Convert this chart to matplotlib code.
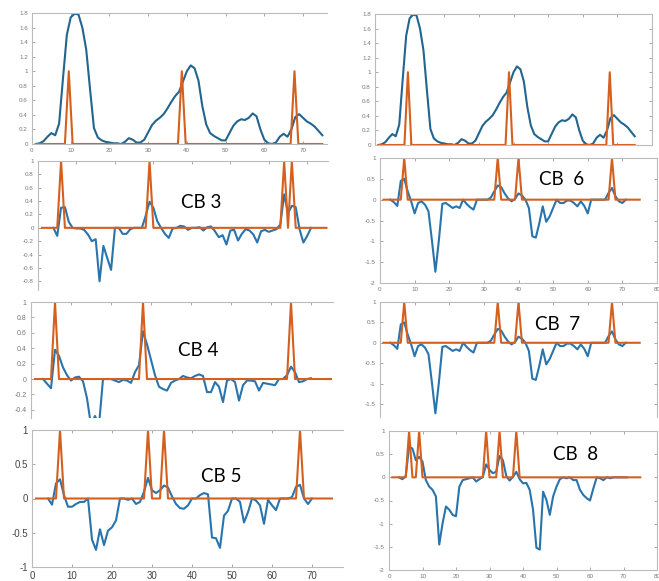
import matplotlib
matplotlib.use('Agg')
import matplotlib.pyplot as plt
from matplotlib.ticker import FuncFormatter

plt.rcParams['axes.unicode_minus'] = False
plt.rcParams['font.family'] = ['Liberation Sans', 'DejaVu Sans']

W, H = 659, 581

# ---- data ----
# top row (same signal in both columns)
top_x = list(range(1, 76))
top_blue = [0.0, 0.01, 0.04, 0.1, 0.15, 0.12, 0.28, 0.9, 1.5, 1.74,
            1.79, 1.78, 1.6, 1.3, 0.75, 0.22, 0.09, 0.05, 0.03, 0.02,
            0.01, 0.01, 0.0, 0.03, 0.08, 0.06, 0.02, 0.02, 0.06, 0.16,
            0.26, 0.32, 0.36, 0.41, 0.49, 0.58, 0.66, 0.72, 0.86, 1.0,
            1.08, 1.04, 0.87, 0.52, 0.27, 0.15, 0.11, 0.08, 0.05, 0.05,
            0.15, 0.25, 0.31, 0.34, 0.33, 0.36, 0.42, 0.38, 0.2, 0.06,
            0.01, 0.0, 0.02, 0.1, 0.14, 0.1, 0.2, 0.37, 0.41, 0.36,
            0.31, 0.28, 0.24, 0.18, 0.12]
top_spikes = [9.5, 38.7, 67.8]

# CB 3
cb3_x = list(range(4, 72))
cb3_blue = [0, -0.12, 0.3, 0.31, 0.09, 0, -0.01, -0.01, -0.03, -0.1,
            -0.2, -0.17, -0.8, -0.27, -0.45, -0.63, 0, 0, -0.09, -0.09,
            -0.02, 0, 0, 0, 0.18, 0.39, 0.3, 0.1, 0, -0.09,
            -0.15, -0.01, 0, 0.03, 0.02, -0.03, 0, 0, 0.01, -0.04,
            0.01, 0.02, -0.05, -0.14, -0.11, -0.25, -0.04, -0.03, -0.19, -0.09,
            -0.02, -0.04, -0.1, -0.22, -0.05, -0.03, -0.06, -0.04, -0.02, 0.05,
            0.5, 0.22, 0.33, 0.31, -0.02, -0.22, -0.12, 0]
cb3_spikes = [6, 29, 64, 66]

# CB 4
cb4_x = list(range(3, 71))
cb4_blue = [0, -0.06, -0.12, 0.38, 0.3, 0.15, 0.05, -0.02, 0.02, 0.03,
            -0.03, -0.25, -0.6, -0.48, -0.6, 0, 0, 0, -0.02, -0.04,
            -0.01, -0.02, -0.05, 0.09, 0.18, 0.62, 0.45, 0.25, 0.05, -0.1,
            -0.13, -0.15, -0.05, -0.02, 0, 0.04, 0.02, 0.01, 0.04, 0.06,
            0.04, -0.17, -0.17, -0.04, -0.1, -0.3, -0.02, 0, -0.04, -0.28,
            -0.08, -0.02, -0.02, -0.03, -0.15, -0.05, -0.06, -0.07, -0.08, 0,
            0, 0.05, 0.16, 0.09, -0.04, -0.03, 0, 0.01]
cb4_spikes = [6, 28, 65]

# CB 5
cb5_x = list(range(4, 71))
cb5_blue = [0, -0.09, 0.22, 0.28, 0.05, -0.12, -0.12, -0.08, -0.05, -0.05,
            0, -0.6, -0.75, -0.45, -0.68, -0.47, -0.42, -0.32, 0, 0,
            -0.02, 0, -0.08, -0.05, 0.1, 0.3, 0.12, 0.08, 0.12, 0.19,
            0.16, 0.03, -0.08, -0.14, -0.15, -0.1, 0, 0, 0.05, 0.08,
            0.06, -0.57, -0.58, -0.72, -0.25, -0.18, 0, 0, -0.05, -0.35,
            -0.2, 0, -0.03, -0.1, -0.37, -0.02, -0.1, -0.17, 0, 0,
            0, 0.02, 0.17, 0.2, 0.0, -0.08, 0]
cb5_spikes = [7, 29, 33, 67]

# CB 6 and CB 7 (same signal)
cb6_x = list(range(3, 72))
cb6_blue = [0, -0.06, -0.15, 0.45, 0.5, 0.2, -0.04, -0.33, -0.08, -0.04,
            -0.12, -0.28, -0.98, -1.73, -0.98, -0.1, -0.08, -0.14, -0.2, -0.16,
            -0.2, 0, -0.1, -0.18, -0.24, 0, 0, 0, 0, 0.05,
            0.2, 0.34, 0.3, 0.15, 0.03, -0.04, 0.02, 0.15, 0.1, 0,
            -0.2, -0.88, -0.91, -0.57, -0.16, -0.53, -0.4, -0.2, 0, -0.08,
            -0.08, -0.02, -0.02, -0.08, -0.16, -0.04, -0.15, -0.33, 0, 0,
            0, 0, 0, 0.16, 0.28, 0.08, -0.04, -0.08, 0]
cb6_spikes = [7, 34, 40, 67]

# CB 8
cb8_x = list(range(3, 72))
cb8_blue = [0, -0.04, 0.03, 0.66, 0.62, 0.37, 0.44, 0.34, -0.06, -0.2,
            -0.27, -0.41, -1.45, -0.99, -0.63, -0.7, -0.81, -0.84, -0.2, -0.06,
            -0.04, -0.02, 0, -0.09, -0.04, 0.01, 0.28, 0.16, 0.09, 0.12,
            0.46, 0.37, 0.03, -0.07, 0.01, 0.12, -0.04, -0.13, -0.12, -0.27,
            -0.7, -1.52, -1.56, -0.31, -0.49, -0.81, -0.41, -0.2, -0.04, 0,
            -0.02, 0, -0.06, -0.06, -0.27, -0.38, -0.45, -0.5, -0.24, 0,
            -0.02, -0.06, 0, -0.02, 0, 0, 0, 0, 0]
cb8_spikes = [6, 9, 29, 33, 38]

ORANGE = '#d4601f'
BLUE_TOP = '#22658f'
BLUE = '#2a74ad'


def spikeLine(centers, start=1, end=75):
    xs = [start]
    ys = [0]
    for c in centers:
        xs += [c - 1, c, c + 1]
        ys += [0, 1, 0]
    xs.append(end)
    ys.append(0)
    return xs, ys


def fmt(v, pos):
    return '%g' % round(v, 2)


def addPanel(fig, box, xlim, ylim, xticks, yticks, x, blue, spikes,
             blueColor=BLUE, right=False, bottom=True, xlabels=True,
             size=4.5, labelColor='#777777'):
    l, t, r, b = box
    ax = fig.add_axes([l / W, 1 - b / H, (r - l) / W, (b - t) / H])
    ax.plot(x, blue, color=blueColor, lw=1.5)
    ox, oy = spikeLine(spikes)
    ax.plot(ox, oy, color=ORANGE, lw=1.5)
    ax.set_xlim(xlim)
    ax.set_ylim(ylim)
    ax.set_xticks(xticks)
    ax.set_yticks(yticks)
    ax.xaxis.set_major_formatter(FuncFormatter(fmt))
    ax.yaxis.set_major_formatter(FuncFormatter(fmt))
    ax.tick_params(direction='in', length=2, width=0.6, color='#999999',
                   labelsize=size, labelcolor=labelColor, pad=3,
                   top=True, right=right, bottom=bottom,
                   labelbottom=xlabels and bottom)
    for side in ['left', 'top', 'right', 'bottom']:
        ax.spines[side].set_color('#bbbbbb')
        ax.spines[side].set_linewidth(0.8)
    ax.spines['right'].set_visible(right)
    ax.spines['bottom'].set_visible(bottom)
    return ax


fig = plt.figure(figsize=(W / 100, H / 100), dpi=100)

xt = [0, 10, 20, 30, 40, 50, 60, 70]
xt8 = [0, 10, 20, 30, 40, 50, 60, 70, 80]
yt_top = [0, 0.2, 0.4, 0.6, 0.8, 1, 1.2, 1.4, 1.6, 1.8]

addPanel(fig, (32, 13, 327, 144), [0, 76.2], [0, 1.8], xt, yt_top,
         top_x, top_blue, top_spikes, blueColor=BLUE_TOP)
addPanel(fig, (375, 14, 652, 145), [0, 80], [0, 1.8], xt8, yt_top,
         top_x, top_blue, top_spikes, blueColor=BLUE_TOP, right=True,
         xlabels=False)

addPanel(fig, (38, 161, 328, 290), [1, 75.4], [-0.93, 1], xt,
         [-0.8, -0.6, -0.4, -0.2, 0, 0.2, 0.4, 0.6, 0.8, 1],
         cb3_x, cb3_blue, cb3_spikes, bottom=False)
addPanel(fig, (31, 302, 333, 418), [0, 75.5], [-0.506, 1], xt,
         [-0.4, -0.2, 0, 0.2, 0.4, 0.6, 0.8, 1],
         cb4_x, cb4_blue, cb4_spikes, bottom=False, size=5)
addPanel(fig, (32, 430, 343, 567), [0, 77.75], [-1, 1], xt,
         [-1, -0.5, 0, 0.5, 1],
         cb5_x, cb5_blue, cb5_spikes, size=7, labelColor='#444444')

addPanel(fig, (380, 158, 657, 283), [0, 80], [-2, 1], xt8,
         [-2, -1.5, -1, -0.5, 0, 0.5, 1],
         cb6_x, cb6_blue, cb6_spikes, right=True)
addPanel(fig, (380, 302, 657, 417), [0, 80], [-1.82, 1], xt8,
         [-1.5, -1, -0.5, 0, 0.5, 1],
         cb6_x, cb6_blue, cb6_spikes, right=True, bottom=False)
addPanel(fig, (389, 431, 657, 570), [0, 80], [-2, 1], xt8,
         [-2, -1.5, -1, -0.5, 0, 0.5, 1],
         cb8_x, cb8_blue, cb8_spikes, right=True)

labels = [('CB 3', 201, 202), ('CB  6', 562, 180), ('CB 4', 198, 351),
          ('CB  7', 558, 324), ('CB 5', 221, 477), ('CB  8', 576, 455)]
for txt, px, py in labels:
    fig.text(px / W, 1 - py / H, txt, ha='center', va='center',
             fontsize=13.5, family=['Lato', 'DejaVu Sans'], color='black')

fig.savefig('out.png', dpi=100)
